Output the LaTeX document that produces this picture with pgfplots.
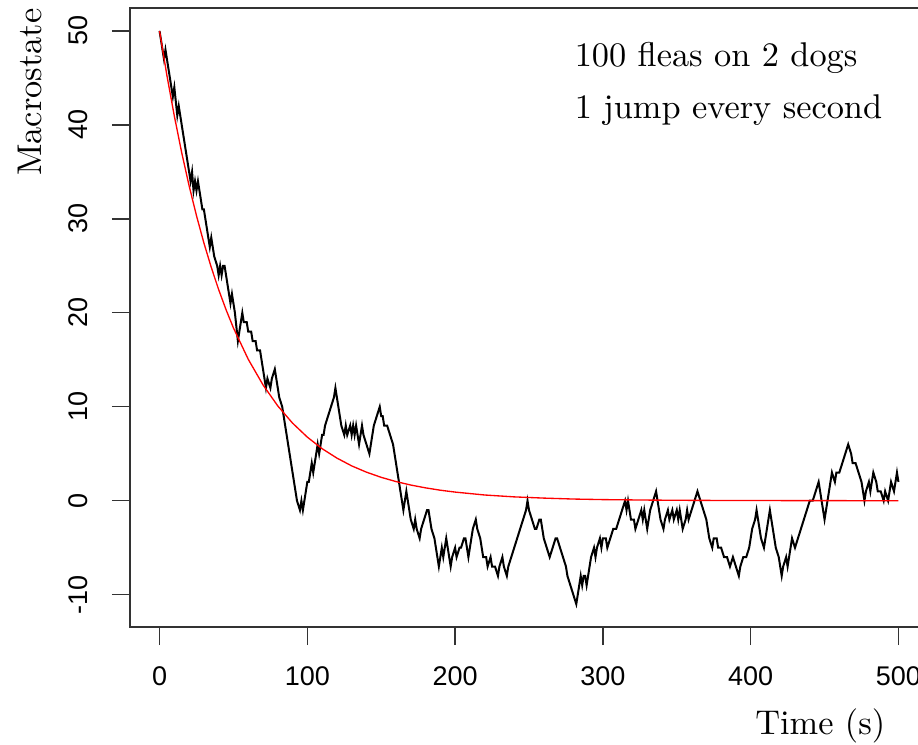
\documentclass[border=0pt]{standalone}
\usepackage{fontspec}
\usepackage{pgfplots}
\pgfplotsset{compat=1.18}
\newfontfamily\arialfont{Liberation Sans}

% red: mean decay of the macrostate
\pgfplotstableread{
t v
0 50
5 45.24
10 40.94
15 37.04
20 33.52
25 30.33
30 27.44
35 24.83
40 22.47
45 20.33
50 18.39
60 15.06
70 12.33
80 10.09
90 8.26
100 6.77
110 5.54
120 4.54
130 3.71
140 3.04
150 2.49
160 2.04
170 1.67
180 1.37
190 1.12
200 0.92
220 0.61
240 0.41
260 0.28
280 0.18
300 0.12
330 0.07
360 0.04
400 0.02
450 0.01
500 0.00
}\meancurve

\begin{document}
\begin{tikzpicture}
\begin{axis}[
  at={(0,0)}, anchor=south west,
  scale only axis, width=239.4pt, height=185.7pt,
  xmin=-20, xmax=520, ymin=-13.44, ymax=52.44,
  xtick={0,100,...,500}, ytick={-10,0,...,50},
  xtick pos=bottom, ytick pos=left,
  tick align=outside, major tick length=5.4pt,
  axis line style={line width=0.45pt, black!80},
  tick style={line width=0.4pt, black!80},
  /pgf/number format/assume math mode=true,
  ticklabel style={font=\arialfont\fontsize{8.1}{9}\selectfont},
  xticklabel style={yshift=-3pt},
  yticklabel style={rotate=90, anchor=south, yshift=3.6pt},
  label style={font=\fontsize{10.3}{12}\selectfont},
  xlabel={Time (s)},
  xlabel style={at={(axis description cs:0.865,-0.16)}, anchor=center},
  ylabel={Macrostate},
  ylabel style={at={(axis description cs:-0.125,0.864)}, anchor=center},
  clip=false,
]
\addplot[black, line width=0.6pt] coordinates {
(0,50)(3,47)(4,48)(7,45)(9,43)(10,44)(12,41)(13,42)(15,40)(17,38)(19,36)(20,35)
(21,34)(22,35)(23,33)(24,34)(25,33)(26,34)(28,32)(29,31)(30,31)(32,29)(34,27)(35,28)
(37,26)(39,25)(40,24)(41,25)(42,24)(43,25)(44,25)(46,23)(48,21)(49,22)(51,20)(53,17)
(54,18)(56,20)(57,19)(59,19)(60,18)(62,18)(63,17)(65,17)(66,16)(68,16)(70,14)(72,12)
(73,13)(75,12)(76,13)(78,14)(79,13)(81,11)(83,10)(85,8)(87,6)(89,4)(91,2)(93,0)
(95,-1)(96,0)(97,-1)(99,1)(100,2)(101,2)(102,3)(103,4)(104,3)(106,5)(107,6)(108,5)
(110,7)(111,7)(112,8)(114,9)(116,10)(118,11)(119,12)(121,10)(123,8)(125,7)(126,8)(127,7)
(129,8)(130,7)(131,8)(132,7)(133,8)(134,7)(135,6)(136,7)(137,8)(138,7)(140,6)(142,5)
(143,6)(145,8)(147,9)(149,10)(150,9)(151,9)(152,8)(154,8)(156,7)(158,6)(160,4)(162,2)
(164,0)(165,-1)(166,0)(167,1)(168,0)(169,-1)(170,-2)(172,-3)(173,-2)(174,-3)(176,-4)(177,-3)
(179,-2)(181,-1)(182,-1)(184,-3)(186,-4)(188,-6)(189,-7)(190,-6)(191,-5)(192,-6)(194,-4)(195,-5)
(196,-6)(197,-7)(198,-6)(200,-5)(201,-6)(203,-5)(204,-5)(206,-4)(207,-4)(209,-6)(210,-5)(212,-3)
(214,-2)(215,-3)(217,-4)(219,-6)(221,-6)(222,-7)(224,-6)(225,-7)(227,-7)(229,-8)(230,-7)(232,-6)
(233,-7)(235,-8)(236,-7)(238,-6)(240,-5)(242,-4)(244,-3)(246,-2)(248,-1)(249,0)(250,-1)(252,-2)
(254,-3)(255,-3)(257,-2)(258,-2)(260,-4)(262,-5)(264,-6)(266,-5)(268,-4)(269,-4)(271,-5)(273,-6)
(275,-7)(276,-8)(278,-9)(280,-10)(282,-11)(283,-10)(285,-8)(286,-9)(287,-8)(288,-8)(289,-9)(290,-8)
(292,-6)(294,-5)(295,-6)(296,-5)(298,-4)(299,-5)(300,-4)(302,-4)(303,-5)(305,-4)(307,-3)(309,-3)
(311,-2)(313,-1)(315,0)(316,-1)(317,0)(319,-2)(321,-2)(322,-3)(324,-2)(326,-1)(327,-2)(328,-1)
(330,-3)(332,-1)(334,0)(336,1)(337,0)(339,-2)(341,-3)(342,-2)(344,-1)(345,-2)(347,-1)(348,-2)
(350,-1)(351,-2)(352,-1)(354,-3)(356,-2)(357,-1)(358,-2)(360,-1)(362,0)(364,1)(366,0)(368,-1)
(370,-2)(372,-4)(374,-5)(375,-4)(377,-4)(378,-5)(380,-5)(382,-6)(384,-6)(386,-7)(388,-6)(390,-7)
(392,-8)(393,-7)(395,-6)(397,-6)(399,-5)(401,-3)(403,-2)(404,-1)(406,-3)(407,-4)(409,-5)(411,-3)
(413,-1)(415,-3)(417,-5)(419,-6)(421,-8)(422,-7)(424,-6)(425,-7)(427,-5)(428,-4)(430,-5)(432,-4)
(434,-3)(436,-2)(438,-1)(440,0)(442,0)(444,1)(446,2)(447,1)(449,-1)(450,-2)(452,0)(454,2)
(455,3)(457,2)(458,3)(460,3)(462,4)(464,5)(466,6)(468,5)(469,4)(471,4)(473,3)(475,2)
(477,0)(478,1)(480,2)(481,1)(483,3)(485,2)(486,1)(488,1)(490,0)(491,1)(493,0)(494,1)
(495,2)(497,1)(498,2)(499,3)(500,2)
};
\addplot[red, line width=0.4pt] table[x=t, y=v] {\meancurve};
\node[anchor=west, font=\fontsize{10.3}{12}\selectfont] at (axis description cs:0.5426,0.919) {100 fleas on 2 dogs};
\node[anchor=west, font=\fontsize{10.3}{12}\selectfont] at (axis description cs:0.5426,0.835) {1 jump every second};
\end{axis}
\pgfresetboundingbox
\useasboundingbox (-39pt,-35.1pt) rectangle (236.4pt,188.1pt);
\end{tikzpicture}
\end{document}
